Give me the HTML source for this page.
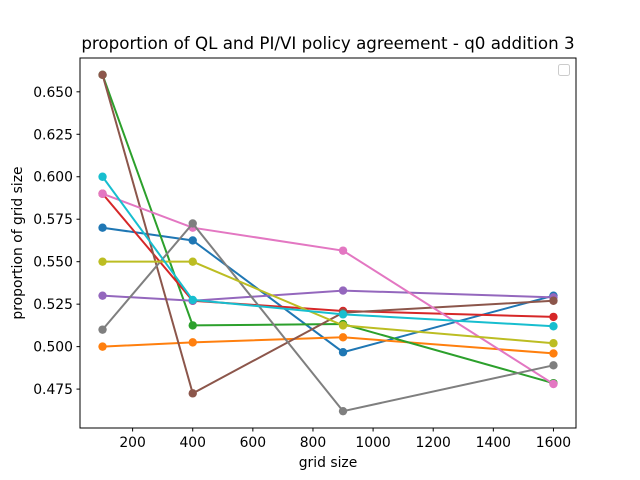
<!DOCTYPE html>
<html><head><meta charset="utf-8"><style>
body{margin:0;background:#fff;}
svg{display:block;font-family:"DejaVu Sans","Liberation Sans",sans-serif;}
</style></head><body>
<svg id="chart" width="640" height="480">
<rect x="0" y="0" width="640" height="480" fill="#fff"/>
<text x="328" y="49" font-size="16.7" text-anchor="middle">proportion of QL and PI/VI policy agreement - q0 addition 3</text>
<g id="plot"></g>
<rect x="80" y="58" width="496" height="370" fill="none" stroke="#000" stroke-width="1"/>
<rect x="558.5" y="64.5" width="11" height="11" rx="2" fill="#fff" stroke="#ccc"/>
<text x="328" y="467" font-size="13.9" text-anchor="middle">grid size</text>
<text transform="translate(22,243) rotate(-90)" font-size="13.9" text-anchor="middle">proportion of grid size</text>
</svg>
<script>
const categories = [100, 400, 900, 1600];
const s0 = [0.570, 0.5625, 0.4967, 0.530];
const s1 = [0.500, 0.5025, 0.5055, 0.496];
const s2 = [0.660, 0.5125, 0.5133, 0.4785];
const s3 = [0.590, 0.527, 0.521, 0.5175];
const s4 = [0.530, 0.527, 0.533, 0.529];
const s5 = [0.660, 0.4725, 0.520, 0.527];
const s6 = [0.590, 0.570, 0.5565, 0.478];
const s7 = [0.510, 0.5725, 0.462, 0.489];
const s8 = [0.550, 0.550, 0.5125, 0.502];
const s9 = [0.600, 0.5275, 0.519, 0.512];
const xTicks = [200, 400, 600, 800, 1000, 1200, 1400, 1600];
const yTicks = [0.475, 0.500, 0.525, 0.550, 0.575, 0.600, 0.625, 0.650];
const series = [s0,s1,s2,s3,s4,s5,s6,s7,s8,s9];
const colors = ["#1f77b4","#ff7f0e","#2ca02c","#d62728","#9467bd","#8c564b","#e377c2","#7f7f7f","#bcbd22","#17becf"];
const NS = "http://www.w3.org/2000/svg";
const L=80,R=576,T=58,B=428;
const allY = series.flat();
const yMin0=Math.min(...allY), yMax0=Math.max(...allY), ym=(yMax0-yMin0)*0.05;
const xMin0=Math.min(...categories), xMax0=Math.max(...categories), xm=(xMax0-xMin0)*0.05;
const x = v => L + (v-(xMin0-xm))/((xMax0+xm)-(xMin0-xm))*(R-L);
const y = v => B - (v-(yMin0-ym))/((yMax0+ym)-(yMin0-ym))*(B-T);
const g = document.getElementById('plot');
function mk(tag, attrs){const e=document.createElementNS(NS,tag);for(const k in attrs)e.setAttribute(k,attrs[k]);return e;}
xTicks.forEach(t=>{
  const l=mk('line',{x1:x(t),x2:x(t),y1:B,y2:B+3.5,stroke:'#000'});
  
  
  g.appendChild(l);
  const tx=mk('text',{x:x(t),y:B+19,'font-size':13.9,'text-anchor':'middle'});
  tx.textContent=t;
  
  
  g.appendChild(tx);
});
yTicks.forEach(t=>{
  const l=mk('line',{x1:L-3.5,x2:L,y1:y(t),y2:y(t),stroke:'#000'});
  
  
  g.appendChild(l);
  const tx=mk('text',{x:L-7,y:y(t)+5,'font-size':13.9,'text-anchor':'end'});
  tx.textContent=t.toFixed(3);
  
  
  g.appendChild(tx);
});
series.forEach((s,i)=>{
  const pts=s.map((v,j)=>x(categories[j])+','+y(v)).join(' ');
  const pl=mk('polyline',{points:pts,fill:'none',stroke:colors[i],'stroke-width':2});
  
  
  g.appendChild(pl);
  s.forEach((v,j)=>{
    const c=mk('circle',{cx:x(categories[j]),cy:y(v),r:4.2,fill:colors[i]});
    
    
    g.appendChild(c);
  });
});
</script>
</body></html>
